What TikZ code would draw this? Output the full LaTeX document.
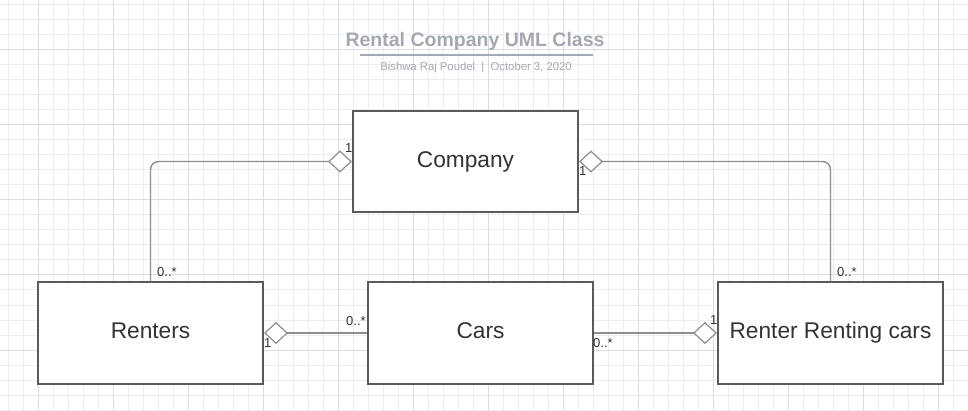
\documentclass[tikz,border=0pt]{standalone}
\usepackage{fontspec}
\setmainfont{Liberation Sans}
\usetikzlibrary{arrows.meta}
\definecolor{gridminor}{HTML}{EDEDED}
\definecolor{gridmajor}{HTML}{DCDCDC}
\definecolor{boxgray}{HTML}{5A5A5A}
\definecolor{linegray}{HTML}{8E8E8E}
\definecolor{titlegray}{HTML}{A4A8B2}
\definecolor{textgray}{HTML}{333333}
\tikzset{
	classbox/.style={draw=boxgray, line width=2pt, fill=white, minimum width=225pt, minimum height=101pt, inner sep=0pt, text height=16.5pt, text depth=5.4pt, text=textgray, font=\fontsize{22.7}{27}\selectfont},
	assoc/.style={draw=linegray, line width=1.4pt, rounded corners=8pt, -{Diamond[length=24pt,width=22pt,fill=white,line width=1.2pt]}},
	mult/.style={inner sep=0pt, anchor=base west, text=textgray, font=\fontsize{13}{15}\selectfont}
}
\begin{document}
\begin{tikzpicture}[x=1pt, y=-1pt]
				\useasboundingbox (0,0) rectangle (968,411);
				\fill[white] (0,0) rectangle (968,411);
				\foreach \gx in {8,23,...,968} \draw[gridminor, line width=1pt] (\gx,0) -- (\gx,411);
				\foreach \gy in {5,20,...,410} \draw[gridminor, line width=1pt] (0,\gy) -- (968,\gy);
				\foreach \gx in {38,113,...,938} \draw[gridmajor, line width=1pt] (\gx,0) -- (\gx,411);
				\foreach \gy in {50,125,...,350} \draw[gridmajor, line width=1pt] (0,\gy) -- (968,\gy);
				\node[anchor=base, text=titlegray, font=\fontsize{19.5}{23}\selectfont\bfseries] (Title) at (475,47) {Rental Company UML Class};
				\draw[titlegray, line width=1.8pt] (360,55) -- (593,55);
				\node[anchor=base, text=titlegray, font=\fontsize{11.3}{13}\selectfont] (Author) at (476,71) {Bishwa Raj Poudel \ | \ October 3, 2020};
				\node[classbox] (Company) at (465.5,161.5) {Company};
				\node[classbox] (Renters) at (150.5,333) {Renters};
				\node[classbox] (Cars) at (480.5,333) {Cars};
				\node[classbox] (Renting) at (830.5,333) {Renter Renting cars};
				\draw[assoc] (Renters.north) |- (Company.west);
				\draw[assoc] (Renting.north) |- (Company.east);
				\draw[assoc] (Cars.west) -- (Renters.east);
				\draw[assoc] (Cars.east) -- (Renting.west);
				\node[mult] (M1) at (345,153) {1};
				\node[mult] (M2) at (157,277) {0..*};
				\node[mult] (M3) at (579,176) {1};
				\node[mult] (M4) at (837,277) {0..*};
				\node[mult] (M5) at (264,347) {1};
				\node[mult] (M6) at (346,325) {0..*};
				\node[mult] (M7) at (593,347) {0..*};
				\node[mult] (M8) at (710,324) {1};
			\end{tikzpicture}
\end{document}
